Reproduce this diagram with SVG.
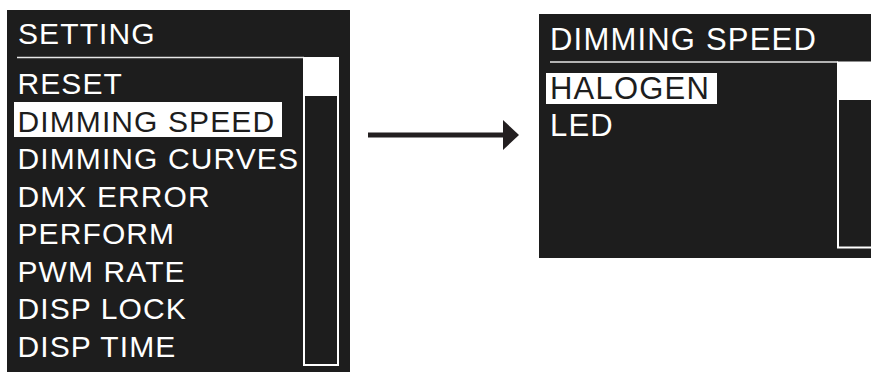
<svg xmlns="http://www.w3.org/2000/svg" width="871" height="372" viewBox="0 0 871 372">
<style>
.bg{fill:#1d1d1d}
.t{font-family:"Liberation Sans",Arial,sans-serif;fill:#ffffff}
.l{font-size:30px;letter-spacing:1.1px}
.r{font-size:31px;letter-spacing:1.2px}
.sel{fill:#1d1d1d}
.hl{fill:#ffffff}
.rule{stroke:#e6e6e6;stroke-width:1.5;fill:none}
.sb{stroke:#ffffff;stroke-width:2;fill:none}
</style>
<defs>
<marker id="ah" viewBox="0 0 16 30" refX="0" refY="15" markerWidth="16" markerHeight="30" markerUnits="userSpaceOnUse" orient="auto">
<path d="M0,0 L16,15 L0,30 Z" fill="#231f20"/>
</marker>
</defs>
<g id="setting-menu">
<rect class="bg" x="7" y="10" width="343" height="362"/>
<text class="t l" x="18" y="43.5">SETTING</text>
<line class="rule" x1="17" y1="57.5" x2="304" y2="57.5"/>
<rect class="sb" x="304" y="58" width="34" height="307"/>
<rect class="hl" x="304" y="57" width="35" height="39"/>
<text class="t l" x="17.5" y="93.5">RESET</text>
<rect class="hl" x="14" y="102" width="268" height="35"/>
<text class="t l sel" x="17.5" y="131.5">DIMMING SPEED</text>
<text class="t l" x="17.5" y="169">DIMMING CURVES</text>
<text class="t l" x="17.5" y="206.5">DMX ERROR</text>
<text class="t l" x="17.5" y="244">PERFORM</text>
<text class="t l" x="17.5" y="281.5">PWM RATE</text>
<text class="t l" x="17.5" y="319">DISP LOCK</text>
<text class="t l" x="17.5" y="356.5">DISP TIME</text>
</g>
<g id="connectors">
<line x1="368" y1="135" x2="503" y2="135" stroke="#231f20" stroke-width="5" marker-end="url(#ah)"/>
</g>
<g id="dimming-speed-menu">
<rect class="bg" x="539" y="14" width="332" height="244"/>
<text class="t r" x="550" y="50">DIMMING SPEED</text>
<line class="rule" x1="550" y1="62" x2="838" y2="62"/>
<rect class="sb" x="838" y="62.5" width="40" height="185"/>
<rect class="hl" x="837" y="62" width="34" height="38"/>
<rect class="hl" x="546" y="73" width="171" height="31"/>
<text class="t r sel" x="550" y="99">HALOGEN</text>
<text class="t r" x="550" y="136">LED</text>
</g>
</svg>
